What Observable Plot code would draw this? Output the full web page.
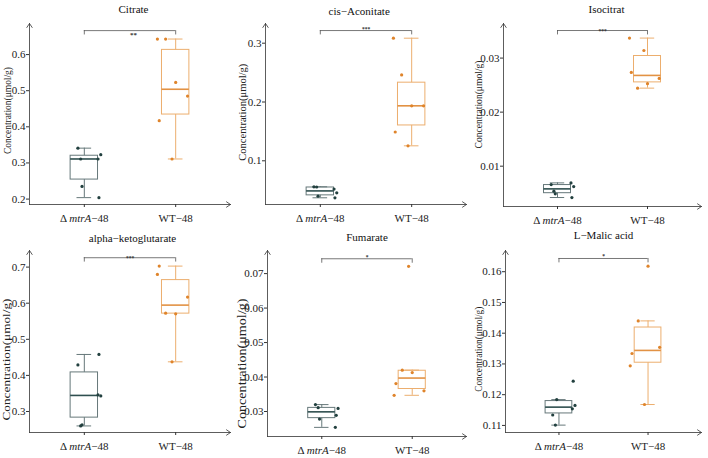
<!DOCTYPE html>
<html>
<head>
<meta charset="utf-8">
<script src="https://cdn.jsdelivr.net/npm/d3@7"></script>
<script src="https://cdn.jsdelivr.net/npm/@observablehq/plot@0.6"></script>
<style>
  body { margin: 0; background: #fff; }
  #fig { position: relative; width: 708px; height: 458px; overflow: hidden; }
  #fig svg { position: absolute; }
</style>
</head>
<body>
<div id="fig"></div>
<script>
// Strains on the x axis
const groups = ["Δ mtrA−48", "WT−48"];

// Horizontal jitter (in category units) of the six replicates of each strain
const jitterMtrA = [-0.07, -0.04, -0.025, 0.15, 0.18, 0.16];
const jitterWT = [-0.2, -0.11, 0, 0.13, -0.18, -0.04];

// Concentrations (μmol/g), six replicates per strain
const citrateMtrA = [0.341, 0.311, 0.235, 0.311, 0.323, 0.204];
const citrateWT = [0.643, 0.643, 0.523, 0.485, 0.417, 0.311];
const aconitateMtrA = [0.0558, 0.0555, 0.0398, 0.052, 0.0456, 0.0371];
const aconitateWT = [0.3085, 0.246, 0.1935, 0.1935, 0.149, 0.1255];
const isocitratMtrA = [0.0066, 0.00537, 0.00488, 0.00691, 0.00623, 0.0042];
const isocitratWT = [0.0337, 0.02444, 0.02526, 0.02624, 0.02735, 0.0314];
const akgMtrA = [0.429, 0.26, 0.263, 0.346, 0.343, 0.458];
const akgWT = [0.6797, 0.5725, 0.5707, 0.6169, 0.7028, 0.4376];
const fumarateMtrA = [0.032, 0.0311, 0.0278, 0.0254, 0.0309, 0.0289];
const fumarateWT = [0.0347, 0.042, 0.0413, 0.036, 0.0381, 0.0721];
const malicMtrA = [0.1134, 0.1101, 0.1184, 0.1154, 0.1165, 0.1244];
const malicWT = [0.1294, 0.144, 0.1618, 0.1354, 0.1334, 0.1168];

// Panel titles, significance labels and bracket heights
const titles = ["Citrate", "cis−Aconitate", "Isocitrat", "alpha−ketoglutarate", "Fumarate", "L−Malic acid"];
const stars = ["**", "***", "***", "***", "*", "*"];
const brackets = [0.6663, 0.3215, 0.0351, 0.726, 0.0743, 0.1643];

// y axis ticks and extents
const citrateTicks = [0.2, 0.3, 0.4, 0.5, 0.6];
const aconitateTicks = [0.1, 0.2, 0.3];
const isocitratTicks = [0.01, 0.02, 0.03];
const akgTicks = [0.3, 0.4, 0.5, 0.6, 0.7];
const fumarateTicks = [0.03, 0.04, 0.05, 0.06, 0.07];
const malicTicks = [0.11, 0.12, 0.13, 0.14, 0.15, 0.16];
const yDomains = [[0.185, 0.686], [0.0257, 0.3335], [0.00254, 0.0364], [0.2418, 0.746], [0.02275, 0.0767], [0.1077, 0.1669]];

const yLabel = "Concentration(μmol/g)";
const font = "Liberation Serif";

// colours: points, box outline, median
const pal = [
  {dot: "#22403f", box: "#66787a", med: "#2f4f4f"},
  {dot: "#df842b", box: "#ecae6e", med: "#e29244"}
];

// layout of each panel: svg position/size, frame margins, text placement
const layout = [
  {left: 0,   top: 0,   w: 236, h: 229, ml: 29, mr: 6, mt: 23, mb: 25, tDx: 3.5, tDy: -13.7, sDx: 3.5, sDy: 3,    sFs: 7,   lx: 7.3, ly: 110,   lLen: 87,  lFs: 10.5},
  {left: 236, top: 0,   w: 236, h: 229, ml: 29, mr: 6, mt: 23, mb: 25, tDx: -6.8, tDy: -12.3, sDx: 0,  sDy: -2.7, sFs: 5.5, lx: 6,   ly: 111.7, lLen: 97,  lFs: 11},
  {left: 472, top: 0,   w: 236, h: 229, ml: 31, mr: 7, mt: 23, mb: 23, tDx: 4,   tDy: -13.7, sDx: 0,   sDy: -1,   sFs: 5.5, lx: 6.3, ly: 104,   lLen: 88,  lFs: 10.5},
  {left: 0,   top: 229, w: 236, h: 229, ml: 29, mr: 6, mt: 21, mb: 26, tDx: 2.5, tDy: -12,   sDx: 0,   sDy: -1,   sFs: 5.5, lx: 6.2, ly: 130,   lLen: 122, lFs: 11},
  {left: 236, top: 229, w: 236, h: 229, ml: 31, mr: 6, mt: 21, mb: 22, tDx: 0,   tDy: -13.3, sDx: 0,   sDy: -3.3, sFs: 5.5, lx: 5.5, ly: 134,   lLen: 130, lFs: 11.5},
  {left: 472, top: 229, w: 236, h: 229, ml: 33, mr: 7, mt: 21, mb: 26, tDx: 0,   tDy: -14.7, sDx: 0,   sDy: -3.3, sFs: 5.5, lx: 6.3, ly: 119.7, lLen: 85,  lFs: 10.5}
];

const panels = [
  {mtrA: citrateMtrA, wt: citrateWT, ticks: citrateTicks},
  {mtrA: aconitateMtrA, wt: aconitateWT, ticks: aconitateTicks},
  {mtrA: isocitratMtrA, wt: isocitratWT, ticks: isocitratTicks},
  {mtrA: akgMtrA, wt: akgWT, ticks: akgTicks},
  {mtrA: fumarateMtrA, wt: fumarateWT, ticks: fumarateTicks},
  {mtrA: malicMtrA, wt: malicWT, ticks: malicTicks}
];

// Tukey box statistics (quartiles, whiskers at 1.5 IQR)
function boxStats(values, c) {
  const s = [...values].sort(d3.ascending);
  const q1 = d3.quantile(s, 0.25), med = d3.quantile(s, 0.5), q3 = d3.quantile(s, 0.75);
  const iqr = q3 - q1;
  const lo = d3.min(s.filter(v => v >= q1 - 1.5 * iqr));
  const hi = d3.max(s.filter(v => v <= q3 + 1.5 * iqr));
  return {c, q1, med, q3, lo, hi};
}

const fig = document.getElementById("fig");
const halfBox = 0.15, halfCap = 0.08;

panels.forEach((p, i) => {
  const L = layout[i];
  const [y0, y1] = yDomains[i];
  const pts = [
    ...p.mtrA.map((v, k) => ({g: 0, x: 1 + jitterMtrA[k], y: v})),
    ...p.wt.map((v, k) => ({g: 1, x: 2 + jitterWT[k], y: v}))
  ];
  const boxes = [boxStats(p.mtrA, 1), boxStats(p.wt, 2)];
  const tip = brackets[i] - 0.024 * (y1 - y0);
  const frameH = L.h - L.mt - L.mb;

  const svg = Plot.plot({
    width: L.w, height: L.h,
    marginLeft: L.ml, marginRight: L.mr, marginTop: L.mt, marginBottom: L.mb,
    style: {fontFamily: font, fontSize: "11px", color: "#222", background: "transparent", overflow: "visible"},
    x: {domain: [0.4, 2.6]},
    y: {domain: [y0, y1]},
    marks: [
      Plot.axisY({ticks: p.ticks, tickSize: 3, tickPadding: 1, tickFormat: String, label: null, stroke: "#333",
        fontFamily: font, fontSize: 11, fontVariant: "normal"}),
      Plot.axisX({ticks: [1, 2], tickSize: 3, tickPadding: 7, tickFormat: d => groups[d - 1], label: null, stroke: "#333",
        fontFamily: font, fontSize: 11, fontVariant: "normal"}),
      // axis lines ending in open arrowheads
      Plot.arrow([{a: 0.4, b: y0, c: 0.4, d: y1}, {a: 0.4, b: y0, c: 2.6, d: y0}],
        {x1: "a", y1: "b", x2: "c", y2: "d", stroke: "#333", strokeWidth: 0.8, headLength: 9, headAngle: 68}),
      // significance bracket
      Plot.ruleY([brackets[i]], {x1: 1, x2: 2, stroke: "#555", strokeWidth: 0.8}),
      Plot.ruleX([1, 2], {x: d => d, y1: brackets[i], y2: tip, stroke: "#555", strokeWidth: 0.8}),
      Plot.text([stars[i]], {x: 1.5, y: brackets[i], text: d => d, fontSize: L.sFs, fontWeight: "bold", fontFamily: font,
        dx: L.sDx, dy: L.sDy + 0.23 * L.sFs, lineAnchor: "middle", fill: "#333"}),
      // boxplots
      Plot.ruleX(boxes, {x: "c", y1: "q3", y2: "hi", stroke: d => pal[d.c - 1].box, strokeWidth: 1}),
      Plot.ruleX(boxes, {x: "c", y1: "lo", y2: "q1", stroke: d => pal[d.c - 1].box, strokeWidth: 1}),
      Plot.ruleY(boxes, {y: "hi", x1: d => d.c - halfCap, x2: d => d.c + halfCap, stroke: d => pal[d.c - 1].box, strokeWidth: 1}),
      Plot.ruleY(boxes, {y: "lo", x1: d => d.c - halfCap, x2: d => d.c + halfCap, stroke: d => pal[d.c - 1].box, strokeWidth: 1}),
      Plot.rect(boxes, {x1: d => d.c - halfBox, x2: d => d.c + halfBox, y1: "q1", y2: "q3", fill: "none",
        stroke: d => pal[d.c - 1].box, strokeWidth: 1}),
      Plot.ruleY(boxes, {y: "med", x1: d => d.c - halfBox, x2: d => d.c + halfBox, stroke: d => pal[d.c - 1].med, strokeWidth: 1.6}),
      // jittered replicates
      Plot.dot(pts, {x: "x", y: "y", r: 1.6, fill: d => pal[d.g].dot, stroke: null}),
      // panel title
      Plot.text([titles[i]], {frameAnchor: "top", text: d => d, dx: L.tDx, dy: L.tDy, fontSize: 11, fontFamily: font,
        lineAnchor: "middle", fill: "#111"}),
      // y axis title
      Plot.text([yLabel], {frameAnchor: "left", text: d => d, rotate: -90, dx: L.lx - L.ml,
        dy: L.ly - (L.mt + frameH / 2), fontSize: L.lFs, fontFamily: font, lineAnchor: "middle", textAnchor: "middle", fill: "#222"})
    ]
  });

  svg.style.left = L.left + "px";
  svg.style.top = L.top + "px";

  const sel = d3.select(svg);
  // italic gene name in the mutant's tick label
  sel.selectAll("text").filter(function () { return this.textContent === groups[0]; }).each(function () {
    const t = d3.select(this).text(null);
    t.append("tspan").text("Δ ");
    t.append("tspan").attr("font-style", "italic").text("mtrA");
    t.append("tspan").text("−48");
  });
  // y axis title stretched to its run length
  sel.selectAll("text").filter(function () { return this.textContent === yLabel; })
    .attr("textLength", L.lLen).attr("lengthAdjust", "spacingAndGlyphs");

  fig.appendChild(svg);
});
</script>
</body>
</html>
